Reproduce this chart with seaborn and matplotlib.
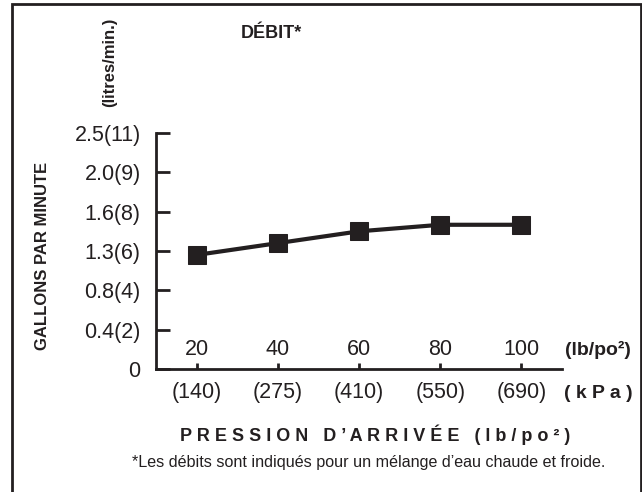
import numpy as np
import pandas as pd
import seaborn as sns
import matplotlib.pyplot as plt
from matplotlib.patches import Rectangle

# data
pressure_psi = [20, 40, 60, 80, 100]
pressure_kpa = ['(140)', '(275)', '(410)', '(550)', '(690)']
flow_gpm = [1.25, 1.36, 1.45, 1.50, 1.50]

# y axis is evenly spaced by tick, not linear in value
ytick_gpm = [0, 0.4, 0.8, 1.3, 1.6, 2.0, 2.5]
ytick_labels = ['0', '0.4(2)', '0.8(4)', '1.3(6)', '1.6(8)', '2.0(9)', '2.5(11)']

INK = '#231f20'

sns.set_style('ticks')
plt.rcParams['font.family'] = ['Liberation Sans', 'DejaVu Sans']

df = pd.DataFrame({'psi': pressure_psi,
                   'pos': np.interp(flow_gpm, ytick_gpm, np.arange(len(ytick_gpm)))})

fig = plt.figure(figsize=(6.42, 4.92), dpi=100)
ax = fig.add_axes([156/642, 1 - 369/492, (562-156)/642, (369-133)/492])

sns.lineplot(data=df, x='psi', y='pos', ax=ax, color=INK, linewidth=3,
             marker='s', markersize=13, markeredgecolor=INK, markerfacecolor=INK)
for ln in ax.lines:
    ln.set_clip_on(False)

ax.set_xlim(10, 110)
ax.set_ylim(0, 6)
sns.despine(ax=ax)
for s in ['left', 'bottom']:
    ax.spines[s].set_linewidth(2)
    ax.spines[s].set_color(INK)

ax.set_yticks(range(len(ytick_labels)))
ax.set_yticklabels(ytick_labels)
ax.tick_params(axis='y', direction='in', length=10, width=2, color=INK,
               labelsize=15.5, labelcolor=INK, pad=11)
ax.set_xticks(pressure_psi)
ax.set_xticklabels([])
ax.tick_params(axis='x', direction='in', length=4, width=2, color=INK)
ax.set_xlabel('')
ax.set_ylabel('')

# psi labels above the axis, kPa labels below
for p, k in zip(pressure_psi, pressure_kpa):
    ax.annotate(str(p), (p, 0), xytext=(0, 14), textcoords='offset points',
                ha='center', va='center', fontsize=15.5, color=INK)
    ax.annotate(k, (p, 0), xytext=(0, -17), textcoords='offset points',
                ha='center', va='center', fontsize=15.5, color=INK)

fig.text(565/642, 1 - 350/492, '(lb/po²)', ha='left', va='center',
         fontsize=14, fontweight='bold', color=INK)
fig.text(633/642, 1 - 394/492, '( k P a )', ha='right', va='center',
         fontsize=14, fontweight='bold', color=INK)

fig.text(271/642, 1 - 33/492, 'DÉBIT*', ha='center', va='center',
         fontsize=13, fontweight='bold', color=INK)
fig.text(43/642, 1 - 256/492, 'GALLONS PAR MINUTE', rotation=90,
         ha='center', va='center', fontsize=12, fontweight='bold', color=INK)
fig.text(110/642, 1 - 62/492, '(litres/min.)', rotation=90,
         ha='center', va='center', fontsize=12, fontweight='bold', color=INK)
fig.text(375/642, 1 - 435/492, 'P R E S S I O N   D ’ A R R I V É E   ( l b / p o ² )',
         ha='center', va='center', fontsize=13, fontweight='bold', color=INK)
fig.text(369/642, 1 - 462/492,
         '*Les débits sont indiqués pour un mélange d’eau chaude et froide.',
         ha='center', va='center', fontsize=11.6, color=INK)

# outer frame
fig.patches.append(Rectangle((12/642, -0.05), (641-12)/642, 1.05 - 3.5/492,
                             transform=fig.transFigure, fill=False,
                             edgecolor=INK, linewidth=2))

fig.savefig('out.png', dpi=100)
